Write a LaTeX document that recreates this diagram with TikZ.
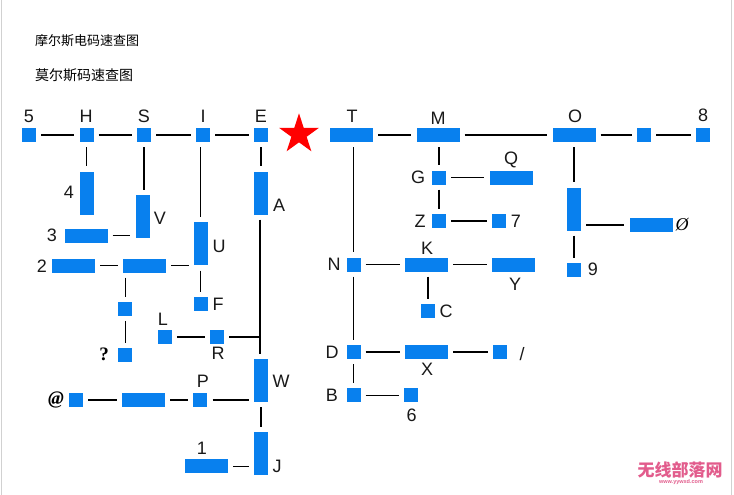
\documentclass[tikz,border=0pt]{standalone}
\usepackage{fontspec}
\setmainfont{Liberation Sans}
\newfontfamily\cjk{Noto Sans CJK SC}
\newfontfamily\cjkit[AutoFakeSlant=0.25]{Noto Sans CJK SC}
\newfontfamily\tmsfont{Liberation Serif}
\usetikzlibrary{shapes.geometric}
\definecolor{boxblue}{RGB}{8,128,238}
\definecolor{wmpink}{RGB}{226,92,140}
\tikzset{
  sq/.style={fill=boxblue, draw=none, minimum width=14pt, minimum height=14pt, inner sep=0pt},
  hbar/.style={fill=boxblue, draw=none, minimum width=43pt, minimum height=14pt, inner sep=0pt},
  vbar/.style={fill=boxblue, draw=none, minimum width=14pt, minimum height=43pt, inner sep=0pt},
  lab/.style={font=\fontsize{18}{18}\selectfont, inner sep=0pt, text=black!90},
  conn/.style={draw=black, line width=1.1pt, shorten <=5pt, shorten >=5pt},
  conn1/.style={draw=black, line width=1.1pt, shorten <=5pt},
}
\begin{document}
\begin{tikzpicture}[x=1pt,y=-1pt]
\useasboundingbox (0,0) rectangle (734,495);
\fill[white] (0,0) rectangle (734,495);
\draw[black!18, line width=1pt] (1.5,0) -- (1.5,495);
\draw[black!18, line width=1pt] (731.5,0) -- (731.5,495);

% titles
\node[anchor=west, inner sep=0pt, font=\cjkit\fontsize{13}{13}\selectfont] (title1) at (35,41) {摩尔斯电码速查图};
\node[anchor=west, inner sep=0pt, font=\cjk\fontsize{14}{14}\selectfont] (title2) at (35,75) {莫尔斯码速查图};

% top row
\node[sq] (n5) at (29,135) {};
\node[sq] (nH) at (86.5,135) {};
\node[sq] (nS) at (144,135) {};
\node[sq] (nI) at (203,135) {};
\node[sq] (nE) at (261,135) {};
\node[star, star points=5, star point ratio=2.618, minimum size=42pt, inner sep=0pt, fill=red, draw=none] (star) at (299,134.3) {};
\node[hbar] (nT) at (351.5,135) {};
\node[hbar] (nM) at (438,135) {};
\node[hbar] (nO) at (574,135) {};
\node[sq] (nOO) at (644,135) {};
\node[sq] (n8) at (703,135) {};

\node[lab] (l5) at (29,116) {5};
\node[lab] (lH) at (86,116) {H};
\node[lab] (lS) at (144,116) {S};
\node[lab] (lI) at (203,116) {I};
\node[lab] (lE) at (261,116) {E};
\node[lab] (lT) at (352,116) {T};
\node[lab] (lM) at (438,118) {M};
\node[lab] (lO) at (575,116) {O};
\node[lab] (l8) at (703,115) {8};

% left branch
\node[vbar] (n4) at (86.5,193) {};
\node[lab] (l4) at (69,192) {4};
\node[vbar] (nV) at (142.5,216.3) {};
\node[lab] (lV) at (160,218) {V};
\node[hbar] (n3) at (86,235.7) {};
\node[lab] (l3) at (52,235) {3};
\node[vbar] (nU) at (200.7,243.8) {};
\node[lab] (lU) at (219,246) {U};
\node[hbar] (n2) at (73.7,265.5) {};
\node[lab] (l2) at (42,266) {2};
\node[hbar] (nUU) at (144.3,265.5) {};
\node[sq] (nF) at (200.7,304.3) {};
\node[lab] (lF) at (218,304) {F};
\node[sq] (nOE) at (125.3,308.7) {};
\node[sq] (nQm) at (125.3,354.7) {};
\node[inner sep=0pt, font=\tmsfont\bfseries\fontsize{19}{19}\selectfont] (lQm) at (104,354) {?};
\node[vbar] (nA) at (261,193) {};
\node[lab] (lA) at (279,205.5) {A};
\node[sq] (nL) at (164.7,337) {};
\node[lab] (lL) at (163,319) {L};
\node[sq] (nR) at (217,337) {};
\node[lab] (lR) at (218,353) {R};
\node[vbar] (nW) at (261,380.3) {};
\node[lab] (lW) at (281,381.7) {W};
\node[sq] (nP) at (200.3,400) {};
\node[lab] (lP) at (203,381) {P};
\node[hbar] (nPP) at (143.7,400) {};
\node[sq] (nAt) at (76,400) {};
\node[inner sep=0pt, font=\tmsfont\bfseries\itshape\fontsize{19}{19}\selectfont] (lAt) at (56,400) {@};
\node[vbar] (nJ) at (261,453.7) {};
\node[lab] (lJ) at (277,466.7) {J};
\node[hbar] (n1) at (206.7,466.3) {};
\node[lab] (l1) at (202,448) {1};
\coordinate (jR) at (260,337);

% right branch
\node[sq] (nG) at (439,177.5) {};
\node[lab] (lG) at (418,177.5) {G};
\node[hbar] (nQ) at (511,177.5) {};
\node[lab] (lQ) at (511,160) {Q};
\node[sq] (nZ) at (439,221) {};
\node[lab] (lZ) at (420,221) {Z};
\node[sq] (n7) at (498.7,221) {};
\node[lab] (l7) at (516,221) {7};
\node[sq] (nN) at (353.5,264.5) {};
\node[lab] (lN) at (334,264.3) {N};
\node[hbar] (nK) at (426.7,264.5) {};
\node[lab] (lK) at (427,248.5) {K};
\node[hbar] (nY) at (513.5,264.5) {};
\node[lab] (lY) at (515,284) {Y};
\node[sq] (nC) at (428,311) {};
\node[lab] (lC) at (446,311) {C};
\node[sq] (nD) at (353.5,352) {};
\node[lab] (lD) at (332,352) {D};
\node[hbar] (nX) at (426.3,352) {};
\node[lab] (lX) at (427,369) {X};
\node[sq] (nSl) at (499.7,352) {};
\node[lab] (lSl) at (522,354) {/};
\node[sq] (nB) at (353.5,395.3) {};
\node[lab] (lB) at (332,395.3) {B};
\node[sq] (n6) at (411,395.3) {};
\node[lab] (l6) at (411.7,415) {6};
\node[vbar] (nOv) at (574,209) {};
\node[hbar] (n0) at (651,225) {};
\node[inner sep=0pt, font=\tmsfont\itshape\fontsize{18}{18}\selectfont] (l0) at (682,225) {Ø};
\node[sq] (n9) at (574,269.7) {};
\node[lab] (l9) at (593,269.7) {9};

% watermark
\node[inner sep=0pt, text=wmpink, font=\tmsfont\bfseries\fontsize{17}{17}\selectfont] (wm1) at (680,470) {\cjk 无线部落网};
\node[inner sep=0pt, text=wmpink, font=\bfseries\fontsize{5.5}{5.5}\selectfont] (wm2) at (681,482) {www.yywxd.com};

% connectors: top row
\draw[conn] (n5) -- (nH);
\draw[conn] (nH) -- (nS);
\draw[conn] (nS) -- (nI);
\draw[conn] (nI) -- (nE);
\draw[conn] (nT) -- (nM);
\draw[conn] (nM) -- (nO);
\draw[conn] (nO) -- (nOO);
\draw[conn] (nOO) -- (n8);

% left branch
\draw[conn] (nH) -- (n4);
\draw[conn] (nS.south) -- (nS.south |- nV.north);
\draw[conn] (nU.north |- nI.south) -- (nU.north);
\draw[conn] (nE) -- (nA);
\draw[conn] (n3.east) -- (n3.east -| nV.west);
\draw[conn] (n2) -- (nUU);
\draw[conn] (nUU.east) -- (nUU.east -| nU.west);
\draw[conn] (nU) -- (nF);
\draw[conn] (nOE.north |- nUU.south) -- (nOE.north);
\draw[conn] (nOE) -- (nQm);
\draw[conn] (nA.south -| jR) -- (nW.north -| jR);
\draw[conn] (nL) -- (nR);
\draw[conn1] (nR) -- (jR);
\draw[conn] (nAt) -- (nPP);
\draw[conn] (nPP) -- (nP);
\draw[conn] (nP.east) -- (nP.east -| nW.west);
\draw[conn] (nW) -- (nJ);
\draw[conn] (n1.east) -- (n1.east -| nJ.west);

% right branch
\draw[conn] (nT.south -| nN) -- (nN);
\draw[conn] (nM.south -| nG) -- (nG);
\draw[conn] (nG) -- (nQ);
\draw[conn] (nG) -- (nZ);
\draw[conn] (nZ) -- (n7);
\draw[conn] (nN) -- (nK);
\draw[conn] (nK) -- (nY);
\draw[conn] (nK.south -| nC) -- (nC);
\draw[conn] (nN) -- (nD);
\draw[conn] (nD) -- (nB);
\draw[conn] (nD) -- (nX);
\draw[conn] (nX) -- (nSl);
\draw[conn] (nB) -- (n6);
\draw[conn] (nO) -- (nOv);
\draw[conn] (n0.west -| nOv.east) -- (n0.west);
\draw[conn] (nOv) -- (n9);
\end{tikzpicture}
\end{document}
